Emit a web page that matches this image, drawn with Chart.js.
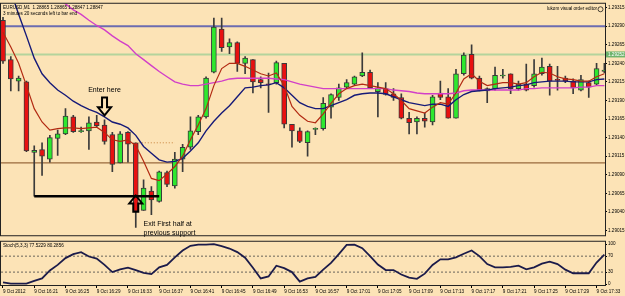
<!DOCTYPE html>
<html lang="en">
<head>
  <meta charset="UTF-8" />
  <title>EURUSD M1</title>
  <style>
    body {
      margin: 0;
      background: #fce3b6;
      width: 625px;
      height: 296px;
      overflow: hidden;
      position: relative;
    }
    #mainChart { position: absolute; left: 0; top: 0; }
    #stochChart { position: absolute; left: 0; top: 238px; }
  </style>
  <script src="https://cdn.jsdelivr.net/npm/chart.js"></script>
</head>
<body>
  <canvas id="mainChart" width="625" height="239"></canvas>
  <canvas id="stochChart" width="625" height="58"></canvas>
  <script>
    // EURUSD M1 candles, one per minute from 16:17
    const opens = [
      1.29298, 1.29245, 1.29216, 1.29215, 1.29120, 1.29124, 1.29111, 1.29139, 1.29145, 1.29168,
      1.29148, 1.29149, 1.29161, 1.29157, 1.29144, 1.29106, 1.29147, 1.29133, 1.29042, 1.29068,
      1.29054, 1.29093, 1.29075, 1.29111, 1.29127, 1.29148, 1.29168, 1.29228, 1.29286, 1.29262,
      1.29268, 1.29240, 1.29245, 1.29218, 1.29212, 1.29214, 1.29240, 1.29158, 1.29149, 1.29133,
      1.29151, 1.29152, 1.29181, 1.29194, 1.29208, 1.29212, 1.29223, 1.29228, 1.29202, 1.29206,
      1.29199, 1.29194, 1.29166, 1.29161, 1.29166, 1.29161, 1.29200, 1.29195, 1.29166, 1.29226,
      1.29252, 1.29220, 1.29203, 1.29206, 1.29223, 1.29226, 1.29206, 1.29212, 1.29210, 1.29226,
      1.29236, 1.29218, 1.29220, 1.29216, 1.29204, 1.29214, 1.29212, 1.29229
    ];
    const highs = [
      1.29302, 1.29249, 1.29223, 1.29216, 1.29129, 1.29133, 1.29143, 1.29150, 1.29179, 1.29170,
      1.29154, 1.29168, 1.29170, 1.29164, 1.29147, 1.29148, 1.29148, 1.29133, 1.29083, 1.29074,
      1.29095, 1.29095, 1.29120, 1.29131, 1.29168, 1.29170, 1.29222, 1.29301, 1.29301, 1.29273,
      1.29269, 1.29249, 1.29245, 1.29222, 1.29227, 1.29243, 1.29240, 1.29158, 1.29153, 1.29149,
      1.29153, 1.29194, 1.29199, 1.29212, 1.29218, 1.29223, 1.29254, 1.29231, 1.29214, 1.29214,
      1.29206, 1.29199, 1.29174, 1.29168, 1.29173, 1.29197, 1.29216, 1.29206, 1.29232, 1.29254,
      1.29265, 1.29223, 1.29207, 1.29235, 1.29232, 1.29226, 1.29216, 1.29239, 1.29245, 1.29247,
      1.29239, 1.29236, 1.29223, 1.29219, 1.29224, 1.29216, 1.29240, 1.29240
    ];
    const lows = [
      1.29240, 1.29203, 1.29203, 1.29121, 1.29061, 1.29089, 1.29107, 1.29116, 1.29144, 1.29147,
      1.29147, 1.29124, 1.29154, 1.29131, 1.29094, 1.29106, 1.29107, 1.29019, 1.29042, 1.29036,
      1.29053, 1.29074, 1.29072, 1.29094, 1.29124, 1.29144, 1.29166, 1.29227, 1.29256, 1.29253,
      1.29229, 1.29226, 1.29200, 1.29207, 1.29174, 1.29212, 1.29153, 1.29127, 1.29133, 1.29115,
      1.29144, 1.29150, 1.29166, 1.29190, 1.29207, 1.29211, 1.29222, 1.29206, 1.29168, 1.29197,
      1.29190, 1.29165, 1.29145, 1.29145, 1.29154, 1.29157, 1.29191, 1.29166, 1.29166, 1.29224,
      1.29219, 1.29203, 1.29187, 1.29204, 1.29220, 1.29199, 1.29204, 1.29203, 1.29208, 1.29224,
      1.29197, 1.29204, 1.29214, 1.29199, 1.29203, 1.29194, 1.29211, 1.29227
    ];
    const closes = [
      1.29243, 1.29219, 1.29220, 1.29122, 1.29123, 1.29115, 1.29140, 1.29145, 1.29169, 1.29148,
      1.29148, 1.29160, 1.29156, 1.29135, 1.29104, 1.29145, 1.29131, 1.29041, 1.29072, 1.29056,
      1.29094, 1.29077, 1.29111, 1.29127, 1.29149, 1.29168, 1.29220, 1.29289, 1.29261, 1.29268,
      1.29240, 1.29247, 1.29215, 1.29214, 1.29211, 1.29241, 1.29158, 1.29149, 1.29135, 1.29148,
      1.29152, 1.29186, 1.29198, 1.29207, 1.29214, 1.29222, 1.29228, 1.29207, 1.29207, 1.29198,
      1.29194, 1.29166, 1.29160, 1.29166, 1.29162, 1.29195, 1.29194, 1.29166, 1.29226, 1.29251,
      1.29220, 1.29204, 1.29206, 1.29224, 1.29224, 1.29206, 1.29212, 1.29204, 1.29226, 1.29235,
      1.29216, 1.29217, 1.29216, 1.29207, 1.29218, 1.29208, 1.29233, 1.29231
    ];

    // moving averages
    const maFast = [
      1.29282, 1.29262, 1.29240, 1.29210, 1.29179, 1.29161, 1.29150, 1.29152, 1.29153, 1.29153,
      1.29152, 1.29153, 1.29154, 1.29147, 1.29137, 1.29135, 1.29137, 1.29129, 1.29108, 1.29085,
      1.29082, 1.29091, 1.29101, 1.29115, 1.29137, 1.29157, 1.29179, 1.29210, 1.29233, 1.29240,
      1.29240, 1.29236, 1.29231, 1.29226, 1.29223, 1.29227, 1.29210, 1.29182, 1.29170, 1.29162,
      1.29160, 1.29172, 1.29186, 1.29199, 1.29206, 1.29210, 1.29212, 1.29210, 1.29208, 1.29206,
      1.29199, 1.29190, 1.29179, 1.29176, 1.29173, 1.29181, 1.29187, 1.29185, 1.29200, 1.29219,
      1.29226, 1.29216, 1.29210, 1.29212, 1.29214, 1.29214, 1.29212, 1.29214, 1.29222, 1.29228,
      1.29227, 1.29222, 1.29219, 1.29218, 1.29216, 1.29216, 1.29222, 1.29226
    ];
    const maMid = [
      1.29368, 1.29337, 1.29306, 1.29277, 1.29247, 1.29226, 1.29214, 1.29204, 1.29197, 1.29189,
      1.29183, 1.29178, 1.29174, 1.29168, 1.29161, 1.29158, 1.29153, 1.29143, 1.29128, 1.29119,
      1.29110, 1.29107, 1.29108, 1.29112, 1.29122, 1.29133, 1.29149, 1.29162, 1.29173, 1.29183,
      1.29195, 1.29207, 1.29208, 1.29210, 1.29211, 1.29214, 1.29207, 1.29197, 1.29187, 1.29182,
      1.29179, 1.29179, 1.29183, 1.29187, 1.29191, 1.29197, 1.29199, 1.29200, 1.29200, 1.29199,
      1.29195, 1.29191, 1.29187, 1.29185, 1.29183, 1.29185, 1.29185, 1.29182, 1.29191, 1.29198,
      1.29202, 1.29203, 1.29204, 1.29206, 1.29207, 1.29208, 1.29210, 1.29211, 1.29214, 1.29215,
      1.29216, 1.29216, 1.29216, 1.29215, 1.29215, 1.29215, 1.29218, 1.29219
    ];
    const maSlow = [
      1.29374, 1.29368, 1.29361, 1.29355, 1.29347, 1.29340, 1.29333, 1.29326, 1.29320, 1.29312,
      1.29306, 1.29298, 1.29291, 1.29285, 1.29277, 1.29270, 1.29264, 1.29253, 1.29245, 1.29237,
      1.29229, 1.29222, 1.29215, 1.29212, 1.29210, 1.29210, 1.29212, 1.29214, 1.29216, 1.29219,
      1.29220, 1.29220, 1.29220, 1.29220, 1.29220, 1.29219, 1.29218, 1.29215, 1.29212, 1.29210,
      1.29208, 1.29206, 1.29206, 1.29206, 1.29206, 1.29206, 1.29206, 1.29206, 1.29206, 1.29206,
      1.29204, 1.29203, 1.29202, 1.29200, 1.29199, 1.29199, 1.29199, 1.29199, 1.29200, 1.29203,
      1.29204, 1.29204, 1.29204, 1.29204, 1.29204, 1.29204, 1.29204, 1.29206, 1.29206, 1.29207,
      1.29207, 1.29207, 1.29207, 1.29207, 1.29208, 1.29208, 1.29210, 1.29210
    ];

    // Stoch(5,3,3) main line
    const stochMain = [
      4, 1, 1, 1, 8, 14, 34, 48, 65, 75,
      80, 69, 64, 48, 30, 37, 41, 35, 28, 25,
      42, 48, 67, 84, 96, 99, 99, 100, 95, 89,
      80, 66, 41, 14, 19, 46, 40, 30, 6, 14,
      18, 36, 53, 75, 98, 99, 90, 70, 49, 35,
      35, 24, 16, 13, 26, 48, 62, 62, 67, 76,
      84, 70, 50, 42, 42, 43, 46, 37, 42, 51,
      56, 50, 36, 27, 27, 27, 54, 74
    ];

    const priceTicks = [1.29315, 1.29290, 1.29265, 1.29240, 1.29215, 1.29190, 1.29165,
                        1.29140, 1.29115, 1.29090, 1.29065, 1.29040, 1.29015];
    const bidPrice = 1.29252;
    const levelPrices = [1.29290, 1.29252, 1.29106];
    const supportPrice = 1.29061;
    const supportBars = [4, 20];
    const entryPrice = 1.29133;
    const entryBars = [17, 22];

    const stochTicks = [0, 30, 70, 100];
    const stochLevels = [30, 70];

    const timeTickBars = [0, 4, 8, 12, 16, 20, 24, 28, 32, 36, 40, 44, 48, 52, 56, 60, 64, 68, 72, 76];
    const timeTickLabels = ['9 Oct 2012', '9 Oct 16:21', '9 Oct 16:25', '9 Oct 16:29', '9 Oct 16:33',
      '9 Oct 16:37', '9 Oct 16:41', '9 Oct 16:45', '9 Oct 16:49', '9 Oct 16:53', '9 Oct 16:57',
      '9 Oct 17:01', '9 Oct 17:05', '9 Oct 17:09', '9 Oct 17:13', '9 Oct 17:17', '9 Oct 17:21',
      '9 Oct 17:25', '9 Oct 17:29', '9 Oct 17:33'];

    // annotation anchors (bar index, price)
    const enterBar = 13;
    const enterTextPrice = 1.29204;
    const enterArrow = [1.29194, 1.29170];   // tail, tip
    const exitBar = 17;
    const exitArrow = [1.29040, 1.29062];    // tail, tip
    const exitTextBar = 18;
    const exitTextPrices = [1.29023, 1.29011];

    const X_MIN = -0.256, X_MAX = 77.08;
    const SMALL_FONT = "4.6px 'Liberation Sans', Arial, sans-serif";

    Chart.defaults.font.family = "'Liberation Sans', Arial, sans-serif";
    Chart.defaults.color = '#000';

    const UP = '#2ee82e', DOWN = '#e81010', WICK = '#3a3a3a';

    function frame(ctx, a) {
      ctx.strokeStyle = '#222';
      ctx.lineWidth = 1;
      ctx.strokeRect(a.left - 0.5, a.top - 0.5, a.right - a.left + 1, a.bottom - a.top + 1);
    }

    // hollow block arrow from tail to tip
    function blockArrow(ctx, x, yTail, yTip) {
      const dir = yTip > yTail ? 1 : -1;
      const headLen = 8, shaft = 2.5, head = 6.5;
      const yBase = yTip - dir * headLen;
      ctx.beginPath();
      ctx.moveTo(x - shaft, yTail);
      ctx.lineTo(x - shaft, yBase);
      ctx.lineTo(x - head, yBase);
      ctx.lineTo(x, yTip);
      ctx.lineTo(x + head, yBase);
      ctx.lineTo(x + shaft, yBase);
      ctx.lineTo(x + shaft, yTail);
      ctx.closePath();
      ctx.lineWidth = 2;
      ctx.strokeStyle = '#000';
      ctx.stroke();
    }

    const mainDecor = {
      id: 'mainDecor',
      afterDraw(chart) {
        const { ctx, chartArea: a, scales: { x, y } } = chart;
        ctx.save();
        frame(ctx, a);

        // arrows and notes
        blockArrow(ctx, x.getPixelForValue(enterBar), y.getPixelForValue(enterArrow[0]), y.getPixelForValue(enterArrow[1]));
        blockArrow(ctx, x.getPixelForValue(exitBar), y.getPixelForValue(exitArrow[0]), y.getPixelForValue(exitArrow[1]));
        ctx.fillStyle = '#000';
        ctx.font = "7px 'Liberation Sans', Arial, sans-serif";
        ctx.textBaseline = 'middle';
        ctx.textAlign = 'center';
        ctx.fillText('Enter here', x.getPixelForValue(enterBar), y.getPixelForValue(enterTextPrice));
        ctx.textAlign = 'left';
        ctx.fillText('Exit First half at', x.getPixelForValue(exitTextBar), y.getPixelForValue(exitTextPrices[0]));
        ctx.fillText('previous support', x.getPixelForValue(exitTextBar), y.getPixelForValue(exitTextPrices[1]));

        // header texts
        ctx.font = SMALL_FONT;
        ctx.textBaseline = 'top';
        ctx.fillText('EURUSD,M1  1.28865 1.28865 1.28847 1.28847', a.left + 2, a.top + 2);
        ctx.fillText('3 minutes 20 seconds left to bar end', a.left + 2, a.top + 8);
        ctx.textAlign = 'right';
        ctx.fillText('lukom visual order editor', a.right - 8, a.top + 3);
        ctx.beginPath();
        ctx.arc(a.right - 4.5, a.top + 5.5, 2.5, 0, Math.PI * 2);
        ctx.lineWidth = 0.7;
        ctx.stroke();

        // bid price tag on the axis
        const yb = y.getPixelForValue(bidPrice);
        ctx.fillStyle = '#6db36d';
        ctx.fillRect(a.right + 1, yb - 3, 625 - a.right - 1, 6);
        ctx.fillStyle = '#fff';
        ctx.textAlign = 'left';
        ctx.textBaseline = 'middle';
        ctx.fillText(bidPrice.toFixed(5), a.right + 3, yb);
        ctx.restore();
      }
    };

    const stochDecor = {
      id: 'stochDecor',
      afterDraw(chart) {
        const { ctx, chartArea: a } = chart;
        ctx.save();
        frame(ctx, a);
        ctx.fillStyle = '#000';
        ctx.font = SMALL_FONT;
        ctx.textBaseline = 'top';
        ctx.fillText('Stoch(5,3,3) 77.5229 80.2856', a.left + 2, a.top + 2);
        ctx.restore();
      }
    };

    const bars = opens.map((o, i) => i);

    function hLine(price, from, to, color, width, dash, order) {
      return {
        type: 'line',
        data: [{ x: from, y: price }, { x: to, y: price }],
        borderColor: color,
        borderWidth: width,
        borderDash: dash || [],
        pointRadius: 0,
        order: order
      };
    }

    new Chart(document.getElementById('mainChart'), {
      type: 'bar',
      data: {
        datasets: [
          {
            type: 'line', label: 'MA fast',
            data: bars.map(i => ({ x: i, y: maFast[i] })),
            borderColor: '#b22a12', borderWidth: 1.2, pointRadius: 0, order: 0
          },
          {
            type: 'line', label: 'MA mid',
            data: bars.map(i => ({ x: i, y: maMid[i] })),
            borderColor: '#161a78', borderWidth: 1.4, pointRadius: 0, order: 0
          },
          {
            type: 'line', label: 'MA slow',
            data: bars.map(i => ({ x: i, y: maSlow[i] })),
            borderColor: '#d23fc8', borderWidth: 1.4, pointRadius: 0, order: 0
          },
          hLine(supportPrice, supportBars[0], supportBars[1], '#000', 2.5, null, 0),
          hLine(entryPrice, entryBars[0], entryBars[1], '#c8843c', 1, [1, 2], 0),
          {
            label: 'body',
            data: bars.map(i => ({ x: i, y: [opens[i], closes[i]] })),
            backgroundColor: bars.map(i => closes[i] >= opens[i] ? UP : DOWN),
            borderColor: WICK,
            borderWidth: 1,
            borderSkipped: false,
            barThickness: 5,
            minBarLength: 1,
            grouped: false,
            order: 2
          },
          {
            label: 'wick',
            data: bars.map(i => ({ x: i, y: [lows[i], highs[i]] })),
            backgroundColor: WICK,
            borderWidth: 0,
            barThickness: 1,
            grouped: false,
            order: 3
          },
          hLine(levelPrices[0], X_MIN, X_MAX, '#6c6cb0', 2, null, 4),
          hLine(levelPrices[1], X_MIN, X_MAX, '#b4d49c', 2, null, 4),
          hLine(levelPrices[2], X_MIN, X_MAX, '#9a6a3c', 1.3, null, 4)
        ]
      },
      options: {
        responsive: false,
        animation: false,
        events: [],
        layout: { padding: { left: 1, top: 1, right: 0, bottom: 1 } },
        plugins: { legend: { display: false }, tooltip: { enabled: false } },
        scales: {
          x: { type: 'linear', min: X_MIN, max: X_MAX, offset: false, display: false },
          y: {
            position: 'right',
            min: 1.2900846,
            max: 1.2932026,
            afterFit(scale) { scale.width = 20; },
            afterBuildTicks(scale) { scale.ticks = priceTicks.map(v => ({ value: v })); },
            ticks: {
              font: { size: 4.6 },
              padding: 1,
              autoSkip: false,
              callback: v => Number(v).toFixed(5)
            },
            grid: { drawOnChartArea: false, tickLength: 2, color: '#000' },
            border: { display: true, color: '#222' }
          }
        }
      },
      plugins: [mainDecor]
    });

    new Chart(document.getElementById('stochChart'), {
      type: 'line',
      data: {
        datasets: [
          {
            label: 'Stoch',
            data: bars.map(i => ({ x: i, y: stochMain[i] })),
            borderColor: '#1b1b4a', borderWidth: 1.8, pointRadius: 0, order: 0
          },
          hLine(stochLevels[0], X_MIN, X_MAX, '#444', 0.8, [2, 2], 1),
          hLine(stochLevels[1], X_MIN, X_MAX, '#444', 0.8, [2, 2], 1)
        ]
      },
      options: {
        responsive: false,
        animation: false,
        events: [],
        layout: { padding: { left: 1, top: 2, right: 0, bottom: 0 } },
        plugins: { legend: { display: false }, tooltip: { enabled: false } },
        scales: {
          x: {
            type: 'linear', min: X_MIN, max: X_MAX, offset: false,
            afterFit(scale) { scale.height = 11; },
            afterBuildTicks(scale) { scale.ticks = timeTickBars.map(v => ({ value: v })); },
            ticks: {
              font: { size: 4.6 },
              padding: 1,
              autoSkip: false,
              maxRotation: 0,
              minRotation: 0,
              align: 'start',
              callback: (v, i) => timeTickLabels[i]
            },
            grid: { drawOnChartArea: false, tickLength: 3, color: '#000' },
            border: { display: true, color: '#222' }
          },
          y: {
            position: 'right',
            min: -2.41,
            max: 106.02,
            afterFit(scale) { scale.width = 20; },
            afterBuildTicks(scale) { scale.ticks = stochTicks.map(v => ({ value: v })); },
            ticks: { font: { size: 4.6 }, padding: 1, autoSkip: false },
            grid: { drawOnChartArea: false, tickLength: 2, color: '#000' },
            border: { display: true, color: '#222' }
          }
        }
      },
      plugins: [stochDecor]
    });
  </script>
</body>
</html>
